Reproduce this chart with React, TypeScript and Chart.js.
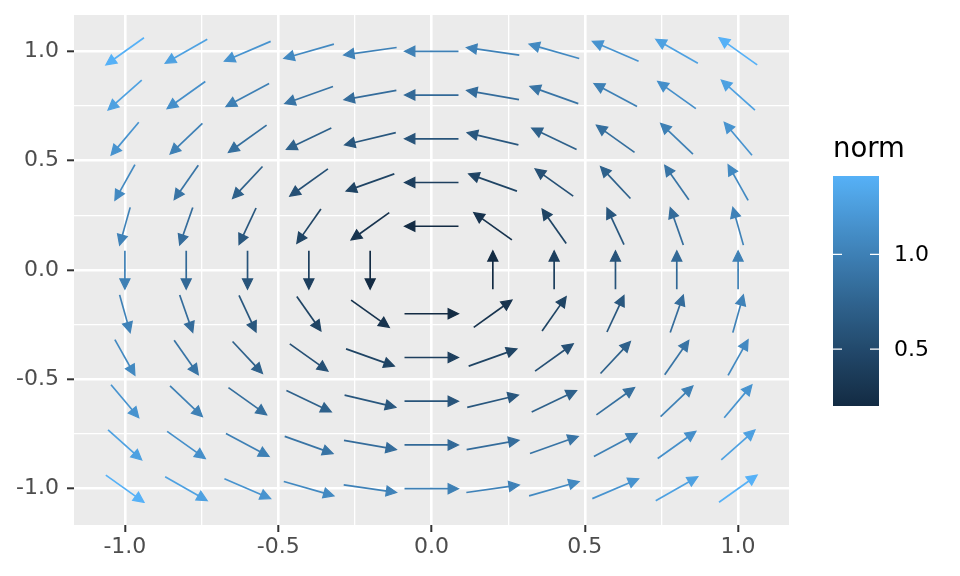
import React, { useEffect, useRef } from "react";
import { Chart, registerables } from "chart.js";

Chart.register(...registerables);

// ---- data ----
const xGrid = [-1.0, -0.8, -0.6, -0.4, -0.2, 0.0, 0.2, 0.4, 0.6, 0.8, 1.0];
const yGrid = [1.0, 0.8, 0.6, 0.4, 0.2, 0.0, -0.2, -0.4, -0.6, -0.8, -1.0];

// horizontal component of each arrow, row by row (top row y = 1.0)
const uRows: (number | null)[][] = [
  [-1, -1, -1, -1, -1, -1, -1, -1, -1, -1, -1],
  [-0.8, -0.8, -0.8, -0.8, -0.8, -0.8, -0.8, -0.8, -0.8, -0.8, -0.8],
  [-0.6, -0.6, -0.6, -0.6, -0.6, -0.6, -0.6, -0.6, -0.6, -0.6, -0.6],
  [-0.4, -0.4, -0.4, -0.4, -0.4, -0.4, -0.4, -0.4, -0.4, -0.4, -0.4],
  [-0.2, -0.2, -0.2, -0.2, -0.2, -0.2, -0.2, -0.2, -0.2, -0.2, -0.2],
  [0, 0, 0, 0, 0, null, 0, 0, 0, 0, 0],
  [0.2, 0.2, 0.2, 0.2, 0.2, 0.2, 0.2, 0.2, 0.2, 0.2, 0.2],
  [0.4, 0.4, 0.4, 0.4, 0.4, 0.4, 0.4, 0.4, 0.4, 0.4, 0.4],
  [0.6, 0.6, 0.6, 0.6, 0.6, 0.6, 0.6, 0.6, 0.6, 0.6, 0.6],
  [0.8, 0.8, 0.8, 0.8, 0.8, 0.8, 0.8, 0.8, 0.8, 0.8, 0.8],
  [1, 1, 1, 1, 1, 1, 1, 1, 1, 1, 1],
];

// vertical component of each arrow, row by row (top row y = 1.0)
const vRows: (number | null)[][] = [
  [-1, -0.8, -0.6, -0.4, -0.2, 0, 0.2, 0.4, 0.6, 0.8, 1],
  [-1, -0.8, -0.6, -0.4, -0.2, 0, 0.2, 0.4, 0.6, 0.8, 1],
  [-1, -0.8, -0.6, -0.4, -0.2, 0, 0.2, 0.4, 0.6, 0.8, 1],
  [-1, -0.8, -0.6, -0.4, -0.2, 0, 0.2, 0.4, 0.6, 0.8, 1],
  [-1, -0.8, -0.6, -0.4, -0.2, 0, 0.2, 0.4, 0.6, 0.8, 1],
  [-1, -0.8, -0.6, -0.4, -0.2, null, 0.2, 0.4, 0.6, 0.8, 1],
  [-1, -0.8, -0.6, -0.4, -0.2, 0, 0.2, 0.4, 0.6, 0.8, 1],
  [-1, -0.8, -0.6, -0.4, -0.2, 0, 0.2, 0.4, 0.6, 0.8, 1],
  [-1, -0.8, -0.6, -0.4, -0.2, 0, 0.2, 0.4, 0.6, 0.8, 1],
  [-1, -0.8, -0.6, -0.4, -0.2, 0, 0.2, 0.4, 0.6, 0.8, 1],
  [-1, -0.8, -0.6, -0.4, -0.2, 0, 0.2, 0.4, 0.6, 0.8, 1],
];

const axisTicks = [-1.0, -0.75, -0.5, -0.25, 0.0, 0.25, 0.5, 0.75, 1.0];
const majorTicks = [-1.0, -0.5, 0.0, 0.5, 1.0];
const legendBreaks = [0.5, 1.0];
const legendTitle = "norm";
const lowColor = "#132B43";
const highColor = "#56B1F7";

// ---- styling constants ----
const ARROW_LEN = 0.176; // data units (arrows are drawn normalised)
const AXIS_LIMIT = 1.166;
const FONT = "'DejaVu Sans', 'Noto Sans', sans-serif";

// ---- colour helpers (CIELAB interpolation like ggplot) ----
function hexToRgb(h: string): number[] {
  const n = parseInt(h.slice(1), 16);
  return [(n >> 16) & 255, (n >> 8) & 255, n & 255];
}
function rgbToLab(rgb: number[]): number[] {
  const lin = (c: number) => {
    c /= 255;
    return c <= 0.04045 ? c / 12.92 : Math.pow((c + 0.055) / 1.055, 2.4);
  };
  const [R, G, B] = rgb.map(lin);
  const X = (0.4124564 * R + 0.3575761 * G + 0.1804375 * B) / 0.95047;
  const Y = 0.2126729 * R + 0.7151522 * G + 0.072175 * B;
  const Z = (0.0193339 * R + 0.119192 * G + 0.9503041 * B) / 1.08883;
  const f = (t: number) => (t > 216 / 24389 ? Math.cbrt(t) : ((24389 / 27) * t + 16) / 116);
  const fx = f(X), fy = f(Y), fz = f(Z);
  return [116 * fy - 16, 500 * (fx - fy), 200 * (fy - fz)];
}
function labToRgb(lab: number[]): number[] {
  const [L, a, b] = lab;
  const fy = (L + 16) / 116;
  const fx = fy + a / 500;
  const fz = fy - b / 200;
  const finv = (t: number) => (t * t * t > 216 / 24389 ? t * t * t : (116 * t - 16) / (24389 / 27));
  const X = finv(fx) * 0.95047, Y = finv(fy), Z = finv(fz) * 1.08883;
  const R = 3.2404542 * X - 1.5371385 * Y - 0.4985314 * Z;
  const G = -0.969266 * X + 1.8760108 * Y + 0.041556 * Z;
  const Bc = 0.0556434 * X - 0.2040259 * Y + 1.0572252 * Z;
  const g = (c: number) => {
    const v = c <= 0.0031308 ? 12.92 * c : 1.055 * Math.pow(c, 1 / 2.4) - 0.055;
    return Math.round(Math.max(0, Math.min(1, v)) * 255);
  };
  return [g(R), g(G), g(Bc)];
}
const labLow = rgbToLab(hexToRgb(lowColor));
const labHigh = rgbToLab(hexToRgb(highColor));
function rampColor(t: number): string {
  const k = Math.max(0, Math.min(1, t));
  const lab = labLow.map((v, i) => v + (labHigh[i] - v) * k);
  const [r, g, b] = labToRgb(lab);
  return `rgb(${r},${g},${b})`;
}

// ---- build points ----
type Pt = { x: number; y: number; u: number; v: number; norm: number };
const points: Pt[] = [];
yGrid.forEach((yy, ri) => {
  xGrid.forEach((xx, ci) => {
    const u = uRows[ri][ci];
    const v = vRows[ri][ci];
    if (u === null || v === null) return;
    const norm = Math.sqrt(u * u + v * v);
    if (norm === 0) return;
    points.push({ x: xx, y: yy, u, v, norm });
  });
});
const normMin = Math.min(...points.map((p) => p.norm));
const normMax = Math.max(...points.map((p) => p.norm));
const colorOf = (n: number) => rampColor((n - normMin) / (normMax - normMin));

const isMajor = (v: number) => majorTicks.some((m) => Math.abs(m - v) < 1e-9);

const panelPlugin = {
  id: "panelBg",
  beforeDraw(chart: any) {
    const { ctx, chartArea } = chart;
    ctx.save();
    ctx.fillStyle = "#FFFFFF";
    ctx.fillRect(0, 0, chart.width, chart.height);
    ctx.fillStyle = "#EBEBEB";
    ctx.fillRect(chartArea.left, chartArea.top, chartArea.right - chartArea.left, chartArea.bottom - chartArea.top);
    ctx.restore();
  },
};

const arrowPlugin = {
  id: "arrows",
  afterDatasetsDraw(chart: any) {
    const { ctx } = chart;
    const xs = chart.scales.x;
    const ys = chart.scales.y;
    const half = ARROW_LEN / 2;
    const HEAD = 11.5;
    const ANG = (26 * Math.PI) / 180;
    ctx.save();
    points.forEach((p) => {
      const ux = p.u / p.norm;
      const uy = p.v / p.norm;
      const x0 = xs.getPixelForValue(p.x - half * ux);
      const y0 = ys.getPixelForValue(p.y - half * uy);
      const x1 = xs.getPixelForValue(p.x + half * ux);
      const y1 = ys.getPixelForValue(p.y + half * uy);
      const a = Math.atan2(y1 - y0, x1 - x0);
      const col = colorOf(p.norm);
      ctx.strokeStyle = col;
      ctx.fillStyle = col;
      ctx.lineWidth = 1.7;
      ctx.lineCap = "butt";
      ctx.lineJoin = "miter";
      ctx.beginPath();
      ctx.moveTo(x0, y0);
      ctx.lineTo(x1 - Math.cos(a) * HEAD * 0.7, y1 - Math.sin(a) * HEAD * 0.7);
      ctx.stroke();
      ctx.beginPath();
      ctx.moveTo(x1, y1);
      ctx.lineTo(x1 - HEAD * Math.cos(a - ANG), y1 - HEAD * Math.sin(a - ANG));
      ctx.lineTo(x1 - HEAD * Math.cos(a + ANG), y1 - HEAD * Math.sin(a + ANG));
      ctx.closePath();
      ctx.fill();
      ctx.lineWidth = 1.2;
      ctx.stroke();
    });
    ctx.restore();
  },
};

const legendPlugin = {
  id: "colorbar",
  afterDraw(chart: any) {
    const { ctx } = chart;
    const left = 833, right = 879, top = 176, bottom = 406;
    ctx.save();
    // title
    ctx.fillStyle = "#000000";
    ctx.font = `27.5px ${FONT}`;
    ctx.textAlign = "left";
    ctx.textBaseline = "alphabetic";
    ctx.fillText(legendTitle, left, 157);
    // gradient bar
    const grad = ctx.createLinearGradient(0, bottom, 0, top);
    const nStops = 40;
    for (let i = 0; i <= nStops; i++) grad.addColorStop(i / nStops, rampColor(i / nStops));
    ctx.fillStyle = grad;
    ctx.fillRect(left, top, right - left, bottom - top);
    // ticks + labels
    ctx.font = `22px ${FONT}`;
    ctx.textBaseline = "middle";
    legendBreaks.forEach((b) => {
      const yy = bottom - ((b - normMin) / (normMax - normMin)) * (bottom - top);
      ctx.strokeStyle = "#FFFFFF";
      ctx.lineWidth = 1.2;
      ctx.beginPath();
      ctx.moveTo(left, yy);
      ctx.lineTo(left + 9, yy);
      ctx.moveTo(right - 9, yy);
      ctx.lineTo(right, yy);
      ctx.stroke();
      ctx.fillStyle = "#000000";
      ctx.fillText(b.toFixed(1), 894, yy + 1);
    });
    ctx.restore();
  },
};

function axisOpts(isX: boolean) {
  return {
    type: "linear" as const,
    min: -AXIS_LIMIT,
    max: AXIS_LIMIT,
    afterBuildTicks: (scale: any) => {
      scale.ticks = axisTicks.map((v) => ({ value: v }));
    },
    afterFit: (scale: any) => {
      if (isX) {
        scale.height = 51;
        scale.paddingLeft = 0;
        scale.paddingRight = 0;
      } else {
        scale.width = 74;
        scale.paddingTop = 0;
        scale.paddingBottom = 0;
      }
    },
    border: { display: false },
    grid: {
      color: "#FFFFFF",
      lineWidth: (c: any) => (c.tick && isMajor(c.tick.value) ? 2.6 : 1.3),
      drawTicks: true,
      tickLength: 7,
      tickWidth: 2,
      tickColor: (c: any) => (c.tick && isMajor(c.tick.value) ? "#333333" : "rgba(0,0,0,0)"),
    },
    ticks: {
      autoSkip: false,
      maxRotation: 0,
      minRotation: 0,
      padding: isX ? 2 : 8,
      color: "#4D4D4D",
      font: { family: FONT, size: 22 },
      callback: (v: any) => (isMajor(Number(v)) ? Number(v).toFixed(1) : ""),
    },
  };
}

export default function App() {
  const ref = useRef<HTMLCanvasElement>(null);
  useEffect(() => {
    if (!ref.current) return;
    const chart = new Chart(ref.current, {
      type: "scatter",
      data: {
        datasets: [
          {
            label: "norm",
            data: points.map((p) => ({ x: p.x, y: p.y })),
            pointRadius: 0,
            pointHoverRadius: 0,
          },
        ],
      },
      options: {
        responsive: false,
        animation: false,
        devicePixelRatio: 1,
        layout: { padding: { left: 0, top: 15, right: 171, bottom: 0 } },
        plugins: { legend: { display: false }, tooltip: { enabled: false } },
        scales: { x: axisOpts(true), y: axisOpts(false) },
      } as any,
      plugins: [panelPlugin, arrowPlugin, legendPlugin],
    });
    return () => chart.destroy();
  }, []);
  return (
    <div style={{ position: "fixed", left: 0, top: 0, width: 960, height: 576, background: "#fff" }}>
      <canvas ref={ref} width={960} height={576} style={{ display: "block", width: 960, height: 576 }} />
    </div>
  );
}
